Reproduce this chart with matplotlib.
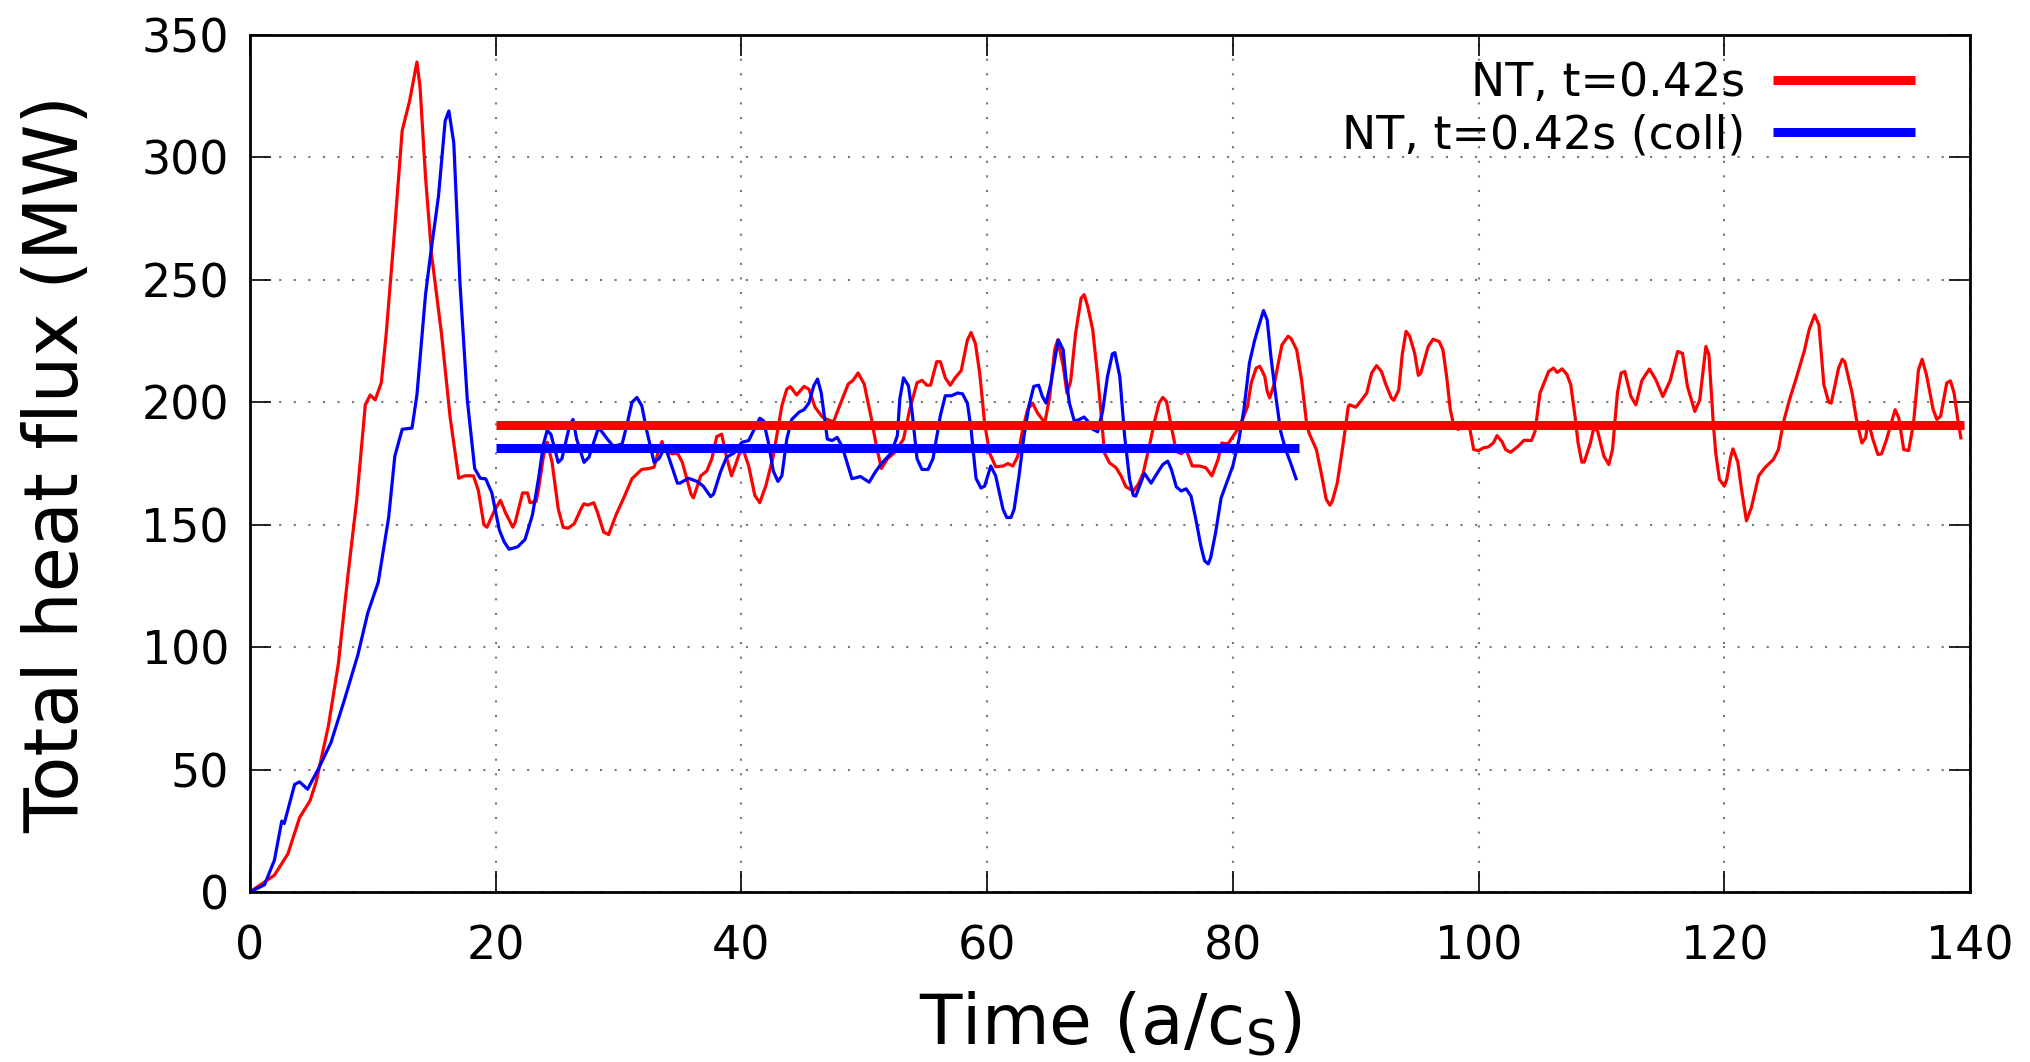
import matplotlib
matplotlib.use("Agg")
import matplotlib.pyplot as plt
import numpy as np

# NT, t=0.42s  (time in a/c_s, total heat flux in MW)
t_nt = [0, 2.0, 3.1, 4.05, 4.9, 5.4, 6.4, 7.2, 8.0, 8.7, 9.4, 9.8, 10.2, 10.7, 11.1, 11.7,
        12.4, 13.0, 13.6, 13.85, 14.3, 14.8, 15.6, 16.3, 17.0, 17.5, 18.2, 18.6, 19.05, 19.3,
        19.9, 20.4, 20.8, 21.4, 21.6, 22.2, 22.6, 22.8, 23.3, 23.5, 23.9, 24.2, 24.6, 25.1,
        25.5, 25.9, 26.4, 27.0, 27.2, 27.5, 28.0, 28.3, 28.8, 29.2, 29.8, 30.4, 31.1, 31.9,
        32.5, 32.9, 33.3, 33.55, 33.8, 34.4, 34.8, 35.2, 35.9, 36.1, 36.7, 37.2, 37.6, 38.0,
        38.4, 38.8, 39.2, 39.6, 40.05, 40.6, 41.1, 41.5, 42.0, 42.6, 43.3, 43.7, 44.0, 44.5,
        45.1, 45.5, 46.0, 46.6, 47.0, 47.5, 48.0, 48.7, 49.1, 49.5, 50.0, 50.6, 51.0, 51.4,
        51.9, 52.5, 53.2, 53.7, 54.3, 54.7, 55.1, 55.4, 55.9, 56.2, 56.6, 57.0, 57.4, 57.9,
        58.4, 58.7, 59.05, 59.4, 59.8, 60.2, 60.7, 61.3, 61.7, 62.1, 62.5, 62.9, 63.3, 63.7,
        64.1, 64.7, 65.1, 65.5, 65.75, 66.2, 66.5, 66.8, 67.2, 67.65, 67.9, 68.2, 68.6, 69.0,
        69.3, 69.55, 69.96, 70.5, 70.9, 71.3, 71.9, 72.3, 72.7, 73.2, 73.6, 74.0, 74.3, 74.6,
        75.0, 75.4, 75.8, 76.2, 76.7, 77.3, 77.8, 78.3, 78.8, 79.1, 79.6, 80.0, 80.4, 80.8,
        81.2, 81.5, 81.9, 82.2, 82.6, 82.8, 83.0, 83.4, 83.7, 84.0, 84.5, 84.75, 85.2, 85.6,
        86.0, 86.2, 86.8, 87.2, 87.6, 87.9, 88.1, 88.5, 88.95, 89.4, 89.5, 90.0, 90.4, 90.9,
        91.3, 91.7, 92.1, 92.4, 92.9, 93.1, 93.5, 93.8, 94.1, 94.4, 94.8, 95.1, 95.3, 95.9,
        96.3, 96.8, 97.1, 97.4, 97.7, 98.0, 98.35, 98.8, 99.3, 99.6, 100.0, 100.4, 100.8,
        101.2, 101.5, 101.9, 102.2, 102.6, 103.2, 103.7, 104.3, 104.6, 105.0, 105.7, 106.1,
        106.4, 106.8, 107.2, 107.5, 107.85, 108.1, 108.4, 108.6, 109.1, 109.4, 109.7, 110.2,
        110.6, 110.9, 111.3, 111.6, 111.9, 112.4, 112.8, 113.3, 113.9, 114.4, 115.0, 115.6,
        116.2, 116.6, 117.0, 117.6, 118.0, 118.5, 118.75, 119.1, 119.3, 119.6, 120.0, 120.2,
        120.5, 120.7, 121.1, 121.4, 121.8, 122.2, 122.8, 123.3, 124.0, 124.4, 124.8, 125.3,
        125.8, 126.5, 126.9, 127.35, 127.7, 128.1, 128.5, 128.7, 129.3, 129.6, 129.8, 130.4,
        130.8, 131.2, 131.5, 131.7, 132.1, 132.5, 132.8, 133.2, 133.9, 134.2, 134.6, 135.0,
        135.4, 135.8, 136.1, 136.45, 137.0, 137.3, 137.6, 138.1, 138.4, 138.7, 139.0, 139.25]
q_nt = [0, 6.9, 15.6, 30.4, 37.3, 45, 68, 93, 130, 160, 199, 203, 201, 208, 228, 265,
        311, 323, 339, 329, 292, 260, 228, 194, 169, 170, 170, 164, 150, 149,
        155.7, 160, 155, 149, 151, 163, 163, 159, 159.5, 164.7, 178, 183.7, 175.5, 156.5,
        149, 148.6, 150.4, 157, 158.6, 158, 159, 155, 147, 146, 154, 160.6, 168.8, 172.6,
        173, 173.5, 181, 184, 180, 179, 179.3, 175.5, 162.6, 161, 170, 172, 177, 186,
        187, 177.6, 170, 175.5, 182.3, 174, 162, 159, 166, 178, 198.6, 205.4, 206.4, 203,
        206.5, 205.4, 198, 194, 193, 192, 198.6, 207.5, 209, 212, 207.5, 193, 182, 173,
        177, 179.6, 185, 197, 208, 209, 207, 207, 216.6, 216.6, 210, 207, 210, 213,
        225.5, 228.5, 224, 212, 191.6, 179.4, 173.7, 174, 175, 174, 178, 189, 197, 199.7,
        195.7, 191.6, 202.4, 221.4, 225.5, 214.7, 203.8, 208.5, 228, 242.5, 244, 239, 229.6, 210.6,
        194.3, 179.4, 175.3, 173.3, 170, 165.5, 163.8, 166.5, 171, 182, 191.6, 199.7, 202, 200.4,
        190, 180, 179, 180.7, 174, 174, 173.3, 170, 176.7, 183.4, 183, 186, 189, 193,
        198.4, 208, 214, 214.7, 210.6, 204.5, 201.8, 208, 216, 223.5, 227, 226, 221.4, 209,
        191.6, 187.5, 180.7, 171, 160.4, 158, 159.7, 167, 182, 198.4, 199, 198, 200.4, 203.8,
        212, 215, 212.6, 208, 201.8, 200.8, 205, 220, 229, 227, 220, 211, 212, 222.8,
        225.8, 224.8, 221.4, 210.6, 197, 190, 188.9, 191.9, 188.9, 180.7, 180.3, 181.4, 181.8,
        183.4, 186.4, 184, 180.7, 179.6, 182, 184.5, 184.4, 188.2, 203.8, 212.6, 214,
        212.2, 213.7, 211.3, 207.2, 194.3, 183.4, 175.6, 175.6, 183.4, 190.2, 188, 178,
        174.6, 180.7, 203.8, 212, 212.6, 202.4, 199, 209, 213.6, 209.5, 202.4, 209,
        220.8, 220, 206.5, 196.3, 201, 222.8, 219.4, 191.6, 179.4, 168.5, 165.8, 168.5,
        177.3, 181, 175.6, 164.5, 151.6, 157, 170, 173.3, 176.7, 180.7, 191.6, 201,
        209, 220.8, 229.6, 235.7, 231.6, 207.2, 200, 199.7, 214, 217.6, 216.6, 203.8,
        191.6, 183.4, 185.5, 192.3, 184.8, 178.7, 179, 184.8, 197, 193.6, 180.7, 180.3,
        191.6, 213.3, 217.6, 211.3, 197, 193, 194.3, 207.9, 208.8, 203.8, 193, 185.5]

# NT, t=0.42s (coll)
t_coll = [0, 1.2, 2.0, 2.6, 2.8, 3.65, 4.05, 4.7, 5.55, 6.6, 7.7, 8.8, 9.6, 10.45, 11.3,
          11.8, 12.4, 13.2, 13.6, 14.3, 14.7, 15.35, 15.9, 16.2, 16.6, 17.1, 17.7, 18.3,
          18.75, 19.2, 19.7, 20.3, 20.7, 21.1, 21.8, 22.4, 23.0, 23.5, 23.9, 24.2, 24.5,
          25.1, 25.4, 26.0, 26.3, 26.6, 27.2, 27.6, 28.3, 28.5, 29.1, 29.6, 30.3, 30.7,
          31.1, 31.5, 31.9, 32.3, 32.9, 33.3, 33.8, 34.4, 34.8, 35.0, 35.7, 36.4, 36.9,
          37.5, 37.75, 38.3, 38.8, 39.4, 40.05, 40.6, 41.0, 41.5, 41.8, 42.2, 42.6, 42.98,
          43.3, 43.7, 44.1, 44.7, 45.1, 45.5, 45.9, 46.2, 46.5, 47.0, 47.4, 47.8, 48.2,
          48.6, 49.0, 49.7, 50.4, 50.9, 51.4, 52.2, 52.7, 52.9, 53.2, 53.6, 53.9, 54.3,
          54.7, 55.2, 55.6, 56.2, 56.6, 57.1, 57.6, 58.0, 58.4, 58.7, 59.1, 59.5, 59.8,
          60.3, 60.7, 61.3, 61.6, 61.95, 62.2, 62.6, 63.0, 63.4, 63.8, 64.2, 64.5, 64.8,
          65.2, 65.6, 65.8, 66.2, 66.4, 66.7, 67.1, 67.5, 67.9, 68.2, 68.6, 69.0, 69.4,
          69.8, 70.2, 70.4, 70.8, 71.2, 71.6, 71.9, 72.1, 72.5, 72.8, 73.35, 73.9, 74.3,
          74.7, 75.0, 75.4, 75.8, 76.2, 76.6, 77.0, 77.4, 77.7, 78.0, 78.2, 78.6, 79.05,
          79.6, 80.0, 80.5, 80.9, 81.35, 81.75, 82.1, 82.5, 82.8, 83.1, 83.5, 83.9, 84.3,
          84.7, 85.15]
q_coll = [0, 3, 13, 29, 28, 44, 45, 42, 50, 61, 78.5, 97, 114, 126.5, 153,
          178, 189, 189.5, 203, 244, 260, 284, 315, 319, 306, 249, 201, 173,
          169, 168.75, 163, 148, 143, 140, 141, 144, 154, 169, 183, 188.5, 187,
          175.5, 177, 190, 193, 185, 175.5, 177.6, 188.5, 189, 185, 182, 183, 191,
          200, 202, 198.6, 188.5, 175.5, 177, 182, 173, 167, 167, 169, 167.7, 165.8,
          161.5, 162.6, 171.5, 177.6, 179.3, 183.7, 184.4, 188.5, 193.5, 192.5, 183.7, 172, 167.7,
          170, 185, 193, 196, 197, 199.7, 206.8, 209.5, 204, 185, 184.4, 185.7, 182,
          175.5, 168.8, 169.7, 167.4, 171.5, 175, 179.3, 186.4, 201.4, 210, 206.8, 196, 177,
          172.6, 172.6, 177, 194.6, 202.7, 202.7, 203.8, 203.5, 199.7, 189, 169, 165, 165.8,
          174, 170, 156.3, 153, 153, 156.3, 170, 186, 198.4, 206.5, 207, 202.4, 199.7,
          208, 220, 225.5, 221.4, 210.6, 199.7, 192.3, 193, 194, 192.3, 189, 188, 196.3,
          210.6, 219.8, 220.3, 210.6, 186, 168.5, 162, 161.7, 167, 171, 167, 171.5, 174.6,
          176, 172.6, 165.5, 163.8, 164.7, 161.7, 152, 141.4, 135.3, 134, 136.6, 146.8, 161,
          168.5, 174, 184.8, 197, 216, 224.8, 231, 237.5, 233.6, 218.7, 202.4, 188, 180.7,
          175.3, 168.8]

# time-averaged levels and the interval they cover
mean_nt, span_nt = 190.9, (20, 139.5)
mean_coll, span_coll = 181.5, (20, 85.4)

plt.rcParams['font.family'] = ['DejaVu Sans']
plt.rcParams['mathtext.fontset'] = 'dejavusans'

fig = plt.figure(figsize=(20.31, 10.62), dpi=100)
ax = fig.add_axes([0.123, 0.160, 0.847, 0.807])

ax.plot(t_nt, q_nt, color='#ff0000', lw=2.3)
ax.plot(t_coll, q_coll, color='#0000ff', lw=2.3)
ax.plot(span_nt, [mean_nt, mean_nt], color='#ff0000', lw=6.5, solid_capstyle='butt',
        label='NT, t=0.42s')
ax.plot(span_coll, [mean_coll, mean_coll], color='#0000ff', lw=6.5, solid_capstyle='butt',
        label='NT, t=0.42s (coll)')

ax.set_xlim(0, 140)
ax.set_ylim(0, 350)
ax.set_xticks(np.arange(0, 141, 20))
ax.set_yticks(np.arange(0, 351, 50))
ax.grid(True, color='#777777', linestyle=(0, (1, 6)), linewidth=1.5)
ax.tick_params(direction='in', length=15, width=1.2, top=True, right=True, labelsize=33)
ax.tick_params(axis='x', pad=23)
ax.tick_params(axis='y', pad=15)
for s in ax.spines.values():
    s.set_linewidth(2)

ax.set_xlabel(r'Time (a/c$_{\rm S}$)', fontsize=50, labelpad=15)
ax.set_ylabel('Total heat flux (MW)', fontsize=53, labelpad=34)

leg = ax.legend(loc='upper right', bbox_to_anchor=(0.968, 0.970), frameon=False,
                fontsize=33, markerfirst=False, handlelength=3.1, handletextpad=0.6,
                labelspacing=0.16, borderaxespad=0.0, borderpad=0.0)
for col in leg._legend_handle_box.get_children():
    col.align = 'right'

fig.savefig('out.png', dpi=100)
